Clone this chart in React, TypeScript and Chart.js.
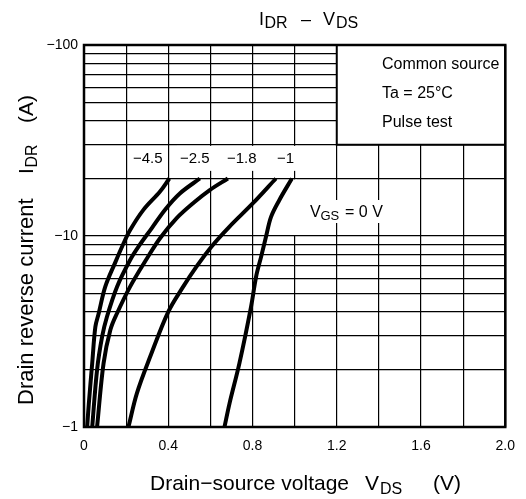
import React, { useEffect, useRef } from "react";
import { Chart, registerables } from "chart.js";

Chart.register(...registerables);

// Reverse drain current curves, one per gate-source voltage (V)
const GATE_LABELS = ["−4.5", "−2.5", "−1.8", "−1", "0"];

const VDS_N45 = [0.015, 0.023, 0.039, 0.054, 0.07, 0.101, 0.149, 0.188, 0.219, 0.282, 0.361, 0.405];
const IDR_N45 = [-1, -1.33, -2.16, -3.35, -3.94, -5.43, -7.3, -9.16, -10.75, -13.7, -17.1, -20];

const VDS_N25 = [0.039, 0.062, 0.086, 0.109, 0.157, 0.219, 0.265, 0.322, 0.384, 0.455, 0.55];
const IDR_N25 = [-1, -1.99, -2.97, -3.78, -5.43, -7.49, -9.0, -11.0, -13.7, -16.7, -20];

const VDS_N18 = [0.062, 0.093, 0.125, 0.157, 0.219, 0.298, 0.361, 0.44, 0.526, 0.597, 0.683];
const IDR_N18 = [-1, -2.16, -3.22, -3.94, -5.43, -7.6, -9.73, -12.4, -15.1, -17.4, -20];

const VDS_N10 = [0.211, 0.251, 0.314, 0.4, 0.471, 0.534, 0.605, 0.691, 0.801, 0.911];
const IDR_N10 = [-1, -1.5, -2.33, -4.01, -5.43, -6.91, -8.79, -11.2, -14.8, -20];

const VDS_0 = [0.667, 0.691, 0.738, 0.793, 0.817, 0.841, 0.864, 0.888, 0.927, 0.987];
const IDR_0 = [-1, -1.33, -2.16, -4.26, -6.12, -7.8, -9.9, -12.6, -15.4, -20];

// Axis ranges and grid
const X_MIN = 0;
const X_MAX = 2.0;
const X_STEP = 0.2;
const Y_GRID = [1, 2, 3, 4, 5, 6, 7, 8, 9, 10, 20, 30, 40, 50, 60, 70, 80, 90, 100];
const Y_LABELED = [1, 10, 100];

const FONT = '"Liberation Sans", Arial, Helvetica, sans-serif';

const SERIES = [
  { vds: VDS_N45, idr: IDR_N45 },
  { vds: VDS_N25, idr: IDR_N25 },
  { vds: VDS_N18, idr: IDR_N18 },
  { vds: VDS_N10, idr: IDR_N10 },
  { vds: VDS_0, idr: IDR_0 },
];

function font(size: number) {
  return `${size}px ${FONT}`;
}

// draws a list of [text, size, dx, dy] pieces starting at the current origin
function drawPieces(ctx: CanvasRenderingContext2D, pieces: [string, number, number, number][]) {
  for (const [t, size, dx, dy] of pieces) {
    ctx.font = font(size);
    ctx.fillText(t, dx, dy);
  }
}

const decorPlugin = {
  id: "decor",
  beforeDatasetsDraw(chart: any) {
    const { ctx, chartArea, scales } = chart;
    const x = scales.x;
    const y = scales.y;
    ctx.save();

    // condition box in the upper right corner
    const bx = x.getPixelForValue(1.2);
    const by = y.getPixelForValue(30);
    ctx.fillStyle = "#fff";
    ctx.fillRect(bx, chartArea.top, chartArea.right - bx, by - chartArea.top);

    // clear background behind the curve labels
    ctx.fillRect(177, by + 1, 121, 25);
    ctx.fillRect(300, 200, 88, 23);
    const x10 = x.getPixelForValue(1.0);
    ctx.fillRect(x10 - 2, y.getPixelForValue(20) + 1, 4, y.getPixelForValue(10) - y.getPixelForValue(20) - 2);

    ctx.strokeStyle = "#000";
    ctx.lineWidth = 2;
    ctx.beginPath();
    ctx.moveTo(bx, chartArea.top);
    ctx.lineTo(bx, by);
    ctx.lineTo(chartArea.right, by);
    ctx.stroke();

    ctx.fillStyle = "#000";
    ctx.textBaseline = "alphabetic";
    ctx.textAlign = "left";
    ctx.font = font(16);
    ctx.fillText("Common source", 382, 69);
    ctx.fillText("Ta = 25°C", 382, 98);
    ctx.fillText("Pulse test", 382, 127);

    // gate voltage labels
    ctx.font = font(15);
    ctx.fillText(GATE_LABELS[0], 133, 163);
    ctx.fillText(GATE_LABELS[1], 180, 163);
    ctx.fillText(GATE_LABELS[2], 227, 163);
    ctx.fillText(GATE_LABELS[3], 277, 163);

    ctx.save();
    ctx.translate(310, 217);
    drawPieces(ctx, [
      ["V", 16, 0, 0],
      ["GS", 13, 10.5, 3],
      ["= " + GATE_LABELS[4] + " V", 16, 35, 0],
    ]);
    ctx.restore();

    ctx.restore();
  },
  afterDraw(chart: any) {
    const { ctx, chartArea } = chart;
    ctx.save();
    ctx.strokeStyle = "#000";
    ctx.lineWidth = 2.5;
    ctx.strokeRect(chartArea.left, chartArea.top, chartArea.right - chartArea.left, chartArea.bottom - chartArea.top);

    ctx.fillStyle = "#000";
    ctx.textAlign = "left";
    ctx.textBaseline = "alphabetic";

    // chart title
    ctx.save();
    ctx.translate(259, 25);
    drawPieces(ctx, [
      ["I", 18, 0, 0],
      ["DR", 16, 5.5, 3],
      ["–", 18, 42, 0],
      ["V", 18, 64, 0],
      ["DS", 16, 77, 3],
    ]);
    ctx.restore();

    // x-axis title
    ctx.save();
    ctx.translate(150, 490);
    drawPieces(ctx, [
      ["Drain−source voltage", 21, 0, 0],
      ["V", 21, 215, 0],
      ["DS", 16, 230, 4],
      ["(V)", 21, 283, 0],
    ]);
    ctx.restore();

    // y-axis title
    ctx.save();
    ctx.translate(33, 405);
    ctx.rotate(-Math.PI / 2);
    drawPieces(ctx, [
      ["Drain reverse current", 22, 0, 0],
      ["I", 21, 231, 0],
      ["DR", 16, 237.5, 4],
      ["(A)", 21, 282, 0],
    ]);
    ctx.restore();

    ctx.restore();
  },
};

export default function App() {
  const canvasRef = useRef<HTMLCanvasElement | null>(null);

  useEffect(() => {
    const canvas = canvasRef.current;
    if (!canvas) return;

    const datasets = SERIES.map((s, i) => ({
      label: GATE_LABELS[i],
      data: s.vds.map((v, k) => ({ x: v, y: -s.idr[k] })),
      borderColor: "#000",
      borderWidth: 4,
      pointRadius: 0,
      tension: 0.35,
      fill: false,
    }));

    const chart = new Chart(canvas, {
      type: "line",
      data: { datasets },
      plugins: [decorPlugin],
      options: {
        animation: false,
        responsive: false,
        maintainAspectRatio: false,
        layout: { padding: { left: 0, top: 45, right: 18, bottom: 0 } },
        plugins: {
          legend: { display: false },
          tooltip: { enabled: false },
          title: { display: false },
        },
        scales: {
          x: {
            type: "linear",
            min: X_MIN,
            max: X_MAX,
            border: { display: false },
            grid: { color: "#000", lineWidth: 1.2, drawTicks: false },
            ticks: {
              stepSize: X_STEP,
              autoSkip: false,
              maxRotation: 0,
              padding: 11,
              color: "#000",
              font: { family: FONT, size: 14 },
              callback: (value: any) => {
                const v = Math.round(Number(value) * 10) / 10;
                if (Math.round(v * 10) % 4 !== 0) return "";
                return v === 0 ? "0" : v.toFixed(1);
              },
            },
            afterFit: (scale: any) => {
              scale.height = 72;
            },
          },
          y: {
            type: "logarithmic",
            min: 1,
            max: 100,
            border: { display: false },
            grid: { color: "#000", lineWidth: 1.2, drawTicks: false },
            afterBuildTicks: (scale: any) => {
              scale.ticks = Y_GRID.map((v) => ({ value: v }));
            },
            ticks: {
              autoSkip: false,
              padding: 6,
              color: "#000",
              font: { family: FONT, size: 14 },
              callback: (value: any) => {
                const v = Number(value);
                return Y_LABELED.includes(v) ? "−" + v : "";
              },
            },
            afterFit: (scale: any) => {
              scale.width = 84;
            },
          },
        },
      },
    } as any);

    return () => chart.destroy();
  }, []);

  return (
    <div style={{ position: "absolute", left: 0, top: 0, width: 526, height: 499, background: "#fff" }}>
      <canvas ref={canvasRef} width={526} height={499} style={{ width: 526, height: 499, display: "block" }} />
    </div>
  );
}
